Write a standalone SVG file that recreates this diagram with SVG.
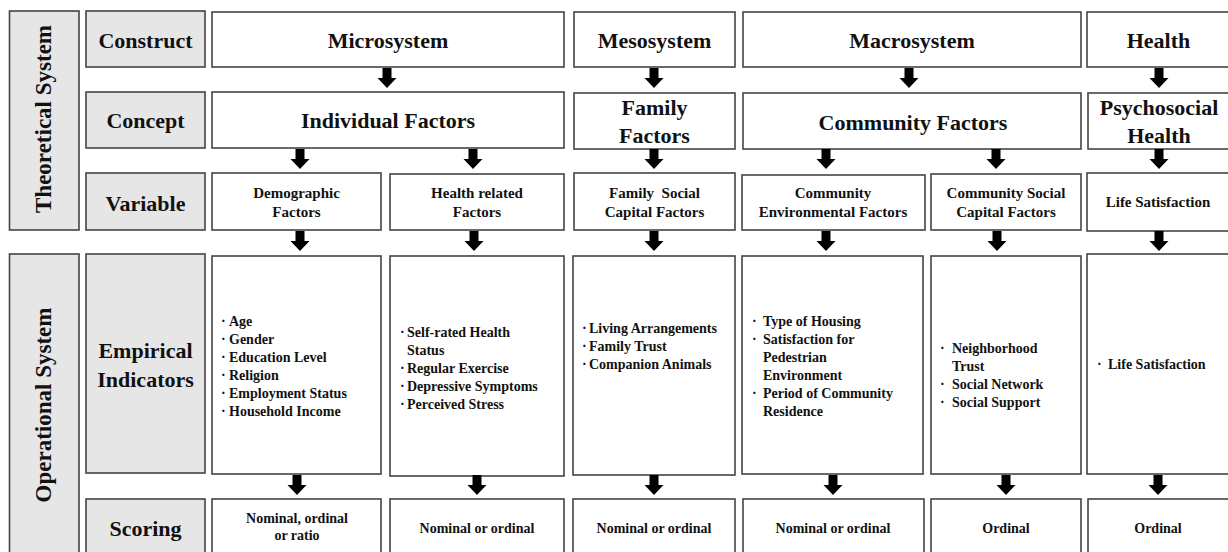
<svg xmlns="http://www.w3.org/2000/svg" xmlns:xlink="http://www.w3.org/1999/xlink" width="1228" height="552" viewBox="0 0 1228 552">
<style>
.box{fill:#fff;stroke:#444;stroke-width:1.6}
.lbl{fill:#e6e6e6;stroke:#444;stroke-width:1.6}
text{font-family:"Liberation Serif","Times New Roman",serif;font-weight:bold;fill:#111}
.c{text-anchor:middle}
.f23{font-size:23px}
.f22{font-size:22px}
.f15{font-size:15px}
.f14{font-size:14px}
.arrow{fill:#000}
</style>
<defs>
<path id="arr" d="M-4.5,0 H4.5 V10 H9.5 L0,20 L-9.5,10 H-4.5 Z"/>
</defs>
<rect width="1228" height="552" fill="#fff"/>

<g id="theoretical-system">
<rect class="lbl" x="9.5" y="11" width="69.5" height="219"/>
<text class="f23 c" transform="translate(51,119) rotate(-90)">Theoretical System</text>
</g>
<g id="operational-system">
<rect class="lbl" x="9.5" y="254" width="69.5" height="310"/>
<text class="f23 c" transform="translate(51,405) rotate(-90)">Operational System</text>
</g>

<g id="construct-label">
<rect class="lbl" x="86" y="11" width="119" height="56"/>
<text class="f22 c" x="145.5" y="48">Construct</text>
</g>
<g id="concept-label">
<rect class="lbl" x="86" y="92" width="119" height="56"/>
<text class="f22 c" x="145.5" y="128">Concept</text>
</g>
<g id="variable-label">
<rect class="lbl" x="86" y="173" width="119" height="57"/>
<text class="f22 c" x="145.5" y="211">Variable</text>
</g>
<g id="empirical-label">
<rect class="lbl" x="86" y="254" width="119" height="219"/>
<text class="f22 c" x="145.5" y="358">Empirical</text>
<text class="f22 c" x="145.5" y="387">Indicators</text>
</g>
<g id="scoring-label">
<rect class="lbl" x="86" y="499" width="119" height="70"/>
<text class="f22 c" x="145.5" y="536">Scoring</text>
</g>

<g id="microsystem">
<rect class="box" x="212" y="12" width="352" height="55"/>
<text class="f22 c" x="388" y="48">Microsystem</text>
</g>
<g id="mesosystem">
<rect class="box" x="574" y="12" width="161" height="55"/>
<text class="f22 c" x="654.5" y="48">Mesosystem</text>
</g>
<g id="macrosystem">
<rect class="box" x="743" y="12" width="338" height="55"/>
<text class="f22 c" x="912" y="48">Macrosystem</text>
</g>
<g id="health">
<rect class="box" x="1087" y="12" width="150" height="55"/>
<text class="f22 c" x="1158.5" y="48">Health</text>
</g>

<g id="individual-factors">
<rect class="box" x="212" y="92" width="352" height="56"/>
<text class="f22 c" x="388" y="128">Individual Factors</text>
</g>
<g id="family-factors">
<rect class="box" x="574" y="93" width="161" height="56"/>
<text class="f22 c" x="654.5" y="115">Family</text>
<text class="f22 c" x="654.5" y="143">Factors</text>
</g>
<g id="community-factors">
<rect class="box" x="743" y="93" width="338" height="56"/>
<text class="f22 c" x="913" y="130">Community Factors</text>
</g>
<g id="psychosocial-health">
<rect class="box" x="1088" y="93" width="150" height="56"/>
<text class="f22 c" x="1159" y="115">Psychosocial</text>
<text class="f22 c" x="1159" y="143">Health</text>
</g>

<g id="demographic-factors">
<rect class="box" x="212" y="173" width="169" height="57"/>
<text class="f15 c" x="296.5" y="198">Demographic</text>
<text class="f15 c" x="296.5" y="217">Factors</text>
</g>
<g id="health-related-factors">
<rect class="box" x="390" y="174" width="174" height="56"/>
<text class="f15 c" x="477" y="198">Health related</text>
<text class="f15 c" x="477" y="217">Factors</text>
</g>
<g id="family-social-capital">
<rect class="box" x="574" y="173" width="161" height="57"/>
<text class="f15 c" x="654.5" y="198" xml:space="preserve">Family  Social</text>
<text class="f15 c" x="654.5" y="217">Capital Factors</text>
</g>
<g id="community-environmental">
<rect class="box" x="742" y="175" width="183" height="55"/>
<text class="f15 c" x="833" y="198">Community</text>
<text class="f15 c" x="833" y="217">Environmental Factors</text>
</g>
<g id="community-social-capital">
<rect class="box" x="931" y="174" width="150" height="56"/>
<text class="f15 c" x="1006" y="198">Community Social</text>
<text class="f15 c" x="1006" y="217">Capital Factors</text>
</g>
<g id="life-satisfaction-var">
<rect class="box" x="1087" y="173" width="150" height="58"/>
<text class="f15 c" x="1158" y="207">Life Satisfaction</text>
</g>

<g id="demographic-indicators">
<rect class="box" x="212" y="256" width="169" height="218"/>
<text class="f14" x="221" y="326">·<tspan x="229">Age</tspan></text>
<text class="f14" x="221" y="344">·<tspan x="229">Gender</tspan></text>
<text class="f14" x="221" y="362">·<tspan x="229">Education Level</tspan></text>
<text class="f14" x="221" y="380">·<tspan x="229">Religion</tspan></text>
<text class="f14" x="221" y="398">·<tspan x="229">Employment Status</tspan></text>
<text class="f14" x="221" y="416">·<tspan x="229">Household Income</tspan></text>
</g>
<g id="health-indicators">
<rect class="box" x="390" y="256" width="174" height="220"/>
<text class="f14" x="400" y="337">·<tspan x="407">Self-rated Health</tspan></text>
<text class="f14" x="407" y="355">Status</text>
<text class="f14" x="400" y="373">·<tspan x="407">Regular Exercise</tspan></text>
<text class="f14" x="400" y="391">·<tspan x="407">Depressive Symptoms</tspan></text>
<text class="f14" x="400" y="409">·<tspan x="407">Perceived Stress</tspan></text>
</g>
<g id="family-indicators">
<rect class="box" x="573" y="256" width="162" height="219"/>
<text class="f14" x="582" y="333">·<tspan x="589">Living Arrangements</tspan></text>
<text class="f14" x="582" y="351">·<tspan x="589">Family Trust</tspan></text>
<text class="f14" x="582" y="369">·<tspan x="589">Companion Animals</tspan></text>
</g>
<g id="environment-indicators">
<rect class="box" x="742" y="256" width="181" height="218"/>
<text class="f14" x="752" y="326">·<tspan x="763">Type of Housing</tspan></text>
<text class="f14" x="752" y="344">·<tspan x="763">Satisfaction for</tspan></text>
<text class="f14" x="763" y="362">Pedestrian</text>
<text class="f14" x="763" y="380">Environment</text>
<text class="f14" x="752" y="398">·<tspan x="763">Period of Community</tspan></text>
<text class="f14" x="763" y="416">Residence</text>
</g>
<g id="social-indicators">
<rect class="box" x="931" y="256" width="150" height="218"/>
<text class="f14" x="940" y="353">·<tspan x="952">Neighborhood</tspan></text>
<text class="f14" x="952" y="371">Trust</text>
<text class="f14" x="940" y="389">·<tspan x="952">Social Network</tspan></text>
<text class="f14" x="940" y="407">·<tspan x="952">Social Support</tspan></text>
</g>
<g id="life-indicators">
<rect class="box" x="1087" y="254" width="150" height="220"/>
<text class="f14" x="1097" y="369">·<tspan x="1108">Life Satisfaction</tspan></text>
</g>

<g id="demographic-scoring">
<rect class="box" x="212" y="499" width="169" height="70"/>
<text class="f14 c" x="297" y="523">Nominal, ordinal</text>
<text class="f14 c" x="297" y="540">or ratio</text>
</g>
<g id="health-scoring">
<rect class="box" x="390" y="499" width="174" height="70"/>
<text class="f14 c" x="477" y="533">Nominal or ordinal</text>
</g>
<g id="family-scoring">
<rect class="box" x="573" y="499" width="162" height="70"/>
<text class="f14 c" x="654" y="533">Nominal or ordinal</text>
</g>
<g id="environment-scoring">
<rect class="box" x="743" y="499" width="181" height="70"/>
<text class="f14 c" x="833" y="533">Nominal or ordinal</text>
</g>
<g id="social-scoring">
<rect class="box" x="931" y="499" width="150" height="70"/>
<text class="f14 c" x="1006" y="533">Ordinal</text>
</g>
<g id="life-scoring">
<rect class="box" x="1088" y="499" width="150" height="70"/>
<text class="f14 c" x="1158" y="533">Ordinal</text>
</g>

<g id="connectors" class="arrow">
<use xlink:href="#arr" x="387" y="68"/>
<use xlink:href="#arr" x="654" y="68"/>
<use xlink:href="#arr" x="909" y="68"/>
<use xlink:href="#arr" x="1159" y="68"/>
<use xlink:href="#arr" x="300" y="149"/>
<use xlink:href="#arr" x="473" y="149"/>
<use xlink:href="#arr" x="654" y="149"/>
<use xlink:href="#arr" x="826" y="149"/>
<use xlink:href="#arr" x="996" y="149"/>
<use xlink:href="#arr" x="1159" y="149"/>
<use xlink:href="#arr" x="300" y="231"/>
<use xlink:href="#arr" x="474" y="231"/>
<use xlink:href="#arr" x="654" y="231"/>
<use xlink:href="#arr" x="826" y="231"/>
<use xlink:href="#arr" x="997" y="231"/>
<use xlink:href="#arr" x="1159" y="231"/>
<use xlink:href="#arr" x="297" y="475"/>
<use xlink:href="#arr" x="477" y="475"/>
<use xlink:href="#arr" x="654" y="475"/>
<use xlink:href="#arr" x="833" y="475"/>
<use xlink:href="#arr" x="1006" y="475"/>
<use xlink:href="#arr" x="1158" y="475"/>
</g>
</svg>
